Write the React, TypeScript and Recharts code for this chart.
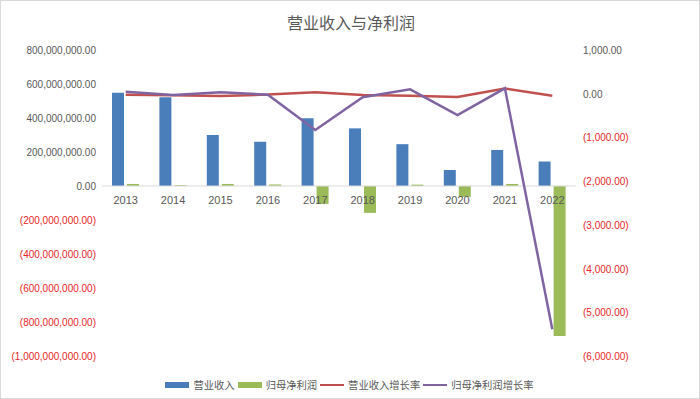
import { ComposedChart, Bar, Line, XAxis, YAxis, ReferenceLine } from "recharts";

const years = ["2013", "2014", "2015", "2016", "2017", "2018", "2019", "2020", "2021", "2022"];
const revenue = [548e6, 522e6, 300e6, 261e6, 398e6, 339e6, 246e6, 94e6, 212e6, 144e6];
const netProfit = [12e6, 5e6, 12e6, 9e6, -105e6, -158e6, 8e6, -64e6, 12e6, -883e6];
const revenueGrowth = [-25, -35, -50, -20, 35, -30, -45, -75, 120, -45];
const profitGrowth = [45, -30, 32, -23, -830, -82, 100, -488, 124, -5390];

const leftTicks = [800e6, 600e6, 400e6, 200e6, 0, -200e6, -400e6, -600e6, -800e6, -1000e6];
const rightTicks = [1000, 0, -1000, -2000, -3000, -4000, -5000, -6000];

const W = 700;
const H = 399;
const X_AXIS_H = 30;
const MARGIN = { top: 50, right: 62, bottom: 43 - X_AXIS_H, left: 0 };
const PLOT_H = H - MARGIN.top - MARGIN.bottom - X_AXIS_H;
const LEFT_MIN = -1000e6;
const LEFT_MAX = 800e6;

const GRAY = "#595959";
const RED = "#e8262a";

const SERIES = [
  { key: "revenue", name: "营业收入", color: "#4a7ebb", kind: "bar" },
  { key: "netProfit", name: "归母净利润", color: "#9bbb59", kind: "bar" },
  { key: "revenueGrowth", name: "营业收入增长率", color: "#c0504d", kind: "line" },
  { key: "profitGrowth", name: "归母净利润增长率", color: "#8064a2", kind: "line" },
];

const data = years.map((year, i) => ({
  year,
  revenue: revenue[i],
  netProfit: netProfit[i],
  revenueGrowth: revenueGrowth[i],
  profitGrowth: profitGrowth[i],
}));

function fmt(v: number) {
  const s = Math.abs(v).toLocaleString("en-US", { minimumFractionDigits: 2, maximumFractionDigits: 2 });
  return v < 0 ? `(${s})` : s;
}

function ValueTick(props: any) {
  const { x, y, payload, textAnchor } = props;
  const v = payload.value as number;
  return (
    <text x={x} y={y} dy={4} textAnchor={textAnchor} fontSize={10} fill={v < 0 ? RED : GRAY}>
      {fmt(v)}
    </text>
  );
}

function YearTick(props: any) {
  const { x, payload } = props;
  // labels sit just under the zero line, not at the bottom of the plot
  const zeroY = MARGIN.top + (PLOT_H * LEFT_MAX) / (LEFT_MAX - LEFT_MIN);
  return (
    <text x={x} y={zeroY + 18} textAnchor="middle" fontSize={11} fill={GRAY}>
      {payload.value}
    </text>
  );
}

export default function App() {
  return (
    <div
      style={{
        position: "absolute",
        left: 0,
        top: 0,
        width: W,
        height: H,
        boxSizing: "border-box",
        border: "1px solid #d9d9d9",
        background: "#fff",
        fontFamily: "'Liberation Sans', Arial, sans-serif",
      }}
    >
      <div
        style={{
          position: "absolute",
          top: 9,
          left: 0,
          width: W,
          textAlign: "center",
          fontSize: 16,
          color: GRAY,
          fontFamily: "'Noto Sans CJK SC', sans-serif",
        }}
      >
        营业收入与净利润
      </div>
      <div style={{ position: "absolute", left: -1, top: -1 }}>
        <ComposedChart width={W} height={H} data={data} margin={MARGIN} barGap={3} barSize={12}>
          <XAxis
            dataKey="year"
            height={X_AXIS_H}
            axisLine={false}
            tickLine={false}
            tick={<YearTick />}
            interval={0}
          />
          <YAxis
            yAxisId="left"
            width={102}
            domain={[LEFT_MIN, LEFT_MAX]}
            ticks={leftTicks}
            axisLine={false}
            tickLine={false}
            tickMargin={0}
            tick={<ValueTick />}
            interval={0}
          />
          <YAxis
            yAxisId="right"
            orientation="right"
            width={62}
            domain={[-6000, 1000]}
            ticks={rightTicks}
            axisLine={false}
            tickLine={false}
            tickMargin={1}
            tick={<ValueTick />}
            interval={0}
          />
          <ReferenceLine yAxisId="left" y={0} stroke="#d9d9d9" />
          <Bar yAxisId="left" dataKey="revenue" fill={SERIES[0].color} isAnimationActive={false} />
          <Bar yAxisId="left" dataKey="netProfit" fill={SERIES[1].color} isAnimationActive={false} />
          <Line
            yAxisId="right"
            dataKey="revenueGrowth"
            stroke={SERIES[2].color}
            strokeWidth={2.5}
            dot={false}
            type="linear"
            isAnimationActive={false}
          />
          <Line
            yAxisId="right"
            dataKey="profitGrowth"
            stroke={SERIES[3].color}
            strokeWidth={2.5}
            dot={false}
            type="linear"
            isAnimationActive={false}
          />
        </ComposedChart>
      </div>
      <div
        style={{
          position: "absolute",
          top: 376,
          left: 0,
          width: W,
          display: "flex",
          justifyContent: "center",
          alignItems: "center",
          fontSize: 10.3,
          color: GRAY,
          fontFamily: "'Noto Sans CJK SC', sans-serif",
        }}
      >
        {SERIES.map((s) => (
          <div key={s.key} style={{ display: "flex", alignItems: "center", marginRight: 3 }}>
            <span
              style={{
                display: "inline-block",
                width: 24,
                height: s.kind === "bar" ? 6 : 2,
                background: s.color,
                marginRight: 4,
              }}
            />
            <span>{s.name}</span>
          </div>
        ))}
      </div>
    </div>
  );
}
